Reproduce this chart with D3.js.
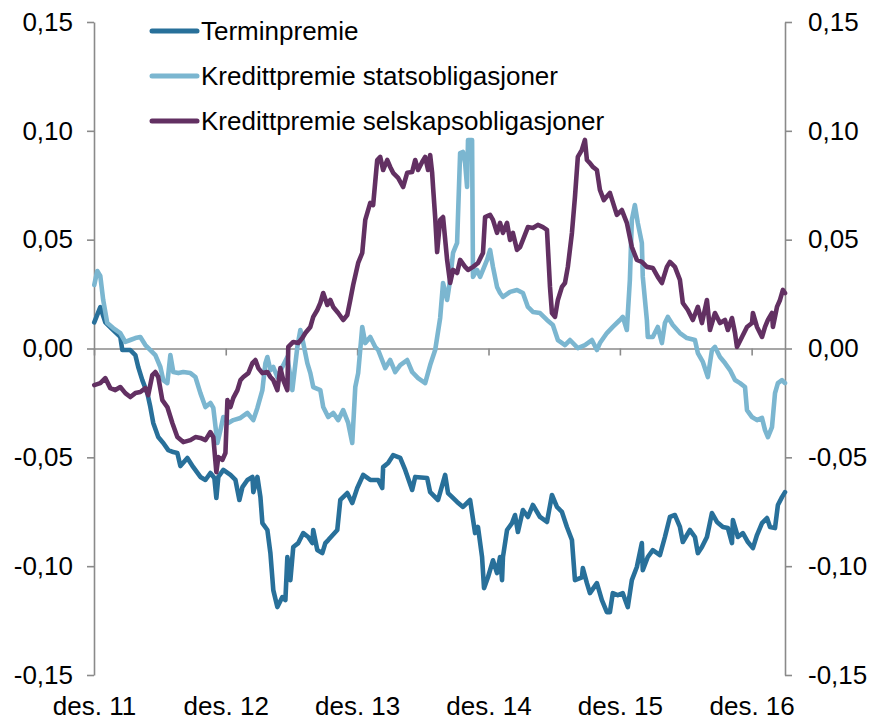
<!DOCTYPE html>
<html>
<head>
<meta charset="utf-8">
<script src="https://cdn.jsdelivr.net/npm/d3@7"></script>
<style>
  body { margin: 0; background: #fff; }
  text { font-family: "Liberation Sans", Arial, sans-serif; }
</style>
</head>
<body>
<div id="chart"></div>
<script>
// ---------------- data (decimal years / values) ----------------
var seriesNames = ["Terminpremie", "Kredittpremie statsobligasjoner", "Kredittpremie selskapsobligasjoner"];

var termYears = [2011.917,2011.963,2012.001,2012.061,2012.115,2012.130,2012.191,2012.229,2012.251,2012.282,
  2012.320,2012.343,2012.365,2012.403,2012.441,2012.479,2012.517,2012.548,2012.571,2012.624,
  2012.669,2012.723,2012.761,2012.799,2012.829,2012.844,2012.859,2012.897,2012.951,2012.989,
  2013.019,2013.042,2013.080,2013.118,2013.125,2013.156,2013.179,2013.194,2013.232,2013.255,
  2013.277,2013.308,2013.346,2013.369,2013.384,2013.407,2013.429,2013.467,2013.505,2013.543,
  2013.574,2013.581,2013.612,2013.650,2013.673,2013.695,2013.764,2013.787,2013.840,2013.878,
  2013.916,2013.961,2014.015,2014.075,2014.106,2014.113,2014.151,2014.189,2014.243,2014.281,
  2014.334,2014.357,2014.448,2014.471,2014.531,2014.585,2014.607,2014.676,2014.721,2014.775,
  2014.813,2014.835,2014.866,2014.881,2014.911,2014.949,2014.980,2015.003,2015.018,2015.025,
  2015.056,2015.094,2015.117,2015.139,2015.177,2015.215,2015.253,2015.307,2015.360,2015.398,
  2015.436,2015.474,2015.512,2015.550,2015.573,2015.626,2015.633,2015.664,2015.687,2015.740,
  2015.778,2015.816,2015.839,2015.861,2015.899,2015.937,2015.975,2016.006,2016.044,2016.082,
  2016.089,2016.127,2016.165,2016.219,2016.257,2016.295,2016.333,2016.371,2016.393,2016.447,
  2016.485,2016.507,2016.538,2016.576,2016.614,2016.652,2016.697,2016.735,2016.766,2016.773,
  2016.811,2016.849,2016.887,2016.925,2016.956,2016.994,2017.032,2017.055,2017.093,2017.115,
  2017.146,2017.169];
var termValues = [0.012,0.019,0.012,0.0085,0.0053,-0.0007,-0.0007,-0.003,-0.0085,-0.0145,
  -0.0205,-0.0269,-0.0342,-0.0407,-0.0434,-0.0467,-0.0476,-0.048,-0.054,-0.0503,
  -0.0545,-0.059,-0.0604,-0.0572,-0.0595,-0.0687,-0.059,-0.0558,-0.0581,-0.0604,
  -0.0696,-0.0637,-0.0604,-0.059,-0.066,-0.059,-0.0683,-0.0802,-0.0834,-0.094,
  -0.111,-0.1188,-0.1142,-0.1156,-0.0958,-0.1064,-0.0912,-0.0894,-0.0848,-0.0866,
  -0.0894,-0.0834,-0.0926,-0.094,-0.0894,-0.088,-0.0834,-0.0696,-0.0664,-0.071,
  -0.0641,-0.0581,-0.0604,-0.0604,-0.0641,-0.0545,-0.0526,-0.049,-0.0503,-0.0558,
  -0.065,-0.059,-0.0595,-0.066,-0.0696,-0.0581,-0.0664,-0.0705,-0.0728,-0.0696,
  -0.0848,-0.082,-0.0958,-0.1101,-0.1051,-0.0973,-0.1032,-0.0958,-0.1064,-0.0958,
  -0.0834,-0.0802,-0.0765,-0.0843,-0.0742,-0.0774,-0.0719,-0.0774,-0.0797,-0.0673,
  -0.0728,-0.0751,-0.082,-0.088,-0.1064,-0.1051,-0.1009,-0.1078,-0.1124,-0.1078,
  -0.1156,-0.1211,-0.1211,-0.1124,-0.1133,-0.1124,-0.1188,-0.1064,-0.1004,-0.0894,
  -0.1018,-0.0958,-0.0926,-0.0949,-0.0866,-0.0774,-0.0765,-0.082,-0.0889,-0.0834,
  -0.0866,-0.094,-0.0912,-0.0866,-0.0756,-0.0797,-0.082,-0.0825,-0.0894,-0.0788,
  -0.0866,-0.0848,-0.0889,-0.0917,-0.0857,-0.0802,-0.0779,-0.082,-0.0825,-0.0719,
  -0.0683,-0.066];

var statYears = [2011.917,2011.940,2011.963,2011.985,2012.016,2012.061,2012.115,2012.153,2012.191,2012.229,
  2012.267,2012.305,2012.343,2012.381,2012.419,2012.441,2012.472,2012.495,2012.517,2012.555,
  2012.593,2012.647,2012.685,2012.723,2012.761,2012.799,2012.821,2012.852,2012.875,2012.897,
  2012.935,2012.973,2013.027,2013.080,2013.125,2013.156,2013.194,2013.217,2013.232,2013.255,
  2013.277,2013.308,2013.346,2013.384,2013.422,2013.460,2013.483,2013.505,2013.536,2013.559,
  2013.581,2013.635,2013.657,2013.695,2013.733,2013.771,2013.809,2013.847,2013.878,2013.901,
  2013.923,2013.954,2013.977,2014.015,2014.053,2014.075,2014.129,2014.167,2014.205,2014.243,
  2014.296,2014.334,2014.379,2014.433,2014.471,2014.509,2014.547,2014.569,2014.600,2014.623,
  2014.645,2014.676,2014.699,2014.721,2014.737,2014.752,2014.759,2014.790,2014.797,2014.828,
  2014.851,2014.873,2014.904,2014.927,2014.949,2014.980,2015.003,2015.025,2015.079,2015.132,
  2015.177,2015.215,2015.253,2015.307,2015.360,2015.405,2015.443,2015.497,2015.535,2015.595,
  2015.649,2015.702,2015.740,2015.763,2015.816,2015.861,2015.915,2015.937,2015.968,2015.991,
  2016.006,2016.029,2016.051,2016.082,2016.089,2016.120,2016.127,2016.165,2016.203,2016.234,
  2016.257,2016.279,2016.317,2016.371,2016.424,2016.485,2016.507,2016.545,2016.583,2016.614,
  2016.637,2016.675,2016.713,2016.751,2016.789,2016.827,2016.865,2016.880,2016.918,2016.956,
  2016.994,2017.017,2017.039,2017.070,2017.093,2017.115,2017.146,2017.169];
var statValues = [0.0292,0.0356,0.0333,0.0223,0.0117,0.0094,0.0071,0.003,0.0039,0.0048,
  0.0053,0.0016,-0.0007,-0.003,-0.0085,-0.0145,-0.0159,-0.003,-0.0108,-0.0113,
  -0.0108,-0.0113,-0.0131,-0.0205,-0.0269,-0.025,-0.0273,-0.0434,-0.0375,-0.0315,
  -0.0342,-0.0329,-0.0319,-0.0296,-0.0329,-0.0273,-0.0191,-0.0067,-0.0039,-0.0099,
  -0.0085,-0.0131,-0.0085,-0.0039,-0.0191,0.0007,0.0085,0.0025,-0.0067,-0.0113,
  -0.0177,-0.0191,-0.0269,-0.0315,-0.0296,-0.0329,-0.0283,-0.0342,-0.0434,-0.0177,
  -0.0113,0.0099,0.0025,0.0053,0.0007,-0.0007,-0.009,-0.0053,-0.0108,-0.0076,
  -0.0053,-0.0108,-0.0136,-0.0159,-0.0076,-0.0007,0.014,0.0301,0.0223,0.0315,
  0.0439,0.0485,0.0898,0.0903,0.0852,0.0742,0.0958,0.0958,0.0329,0.0361,
  0.0329,0.0361,0.0407,0.0453,0.0375,0.0283,0.0255,0.0237,0.026,0.0269,
  0.0255,0.0191,0.0168,0.0163,0.0131,0.0108,0.0039,0.0016,0.0039,0.0002,
  0.0016,0.0039,-0.0007,0.0025,0.0071,0.0099,0.0131,0.0145,0.0085,0.0315,
  0.0591,0.0659,0.0577,0.0485,0.0329,0.0131,0.0053,0.0053,0.0099,0.0025,
  0.0117,0.0145,0.0108,0.0071,0.0048,0.0039,-0.0021,-0.0062,-0.0131,-0.0007,
  0.0007,-0.0039,-0.0067,-0.0099,-0.0145,-0.0159,-0.0177,-0.0283,-0.0315,-0.0329,
  -0.0319,-0.0375,-0.0407,-0.0361,-0.0205,-0.0159,-0.0145,-0.0159];

var selskYears = [2011.917,2011.963,2012.001,2012.039,2012.077,2012.115,2012.153,2012.191,2012.229,2012.267,
  2012.305,2012.327,2012.358,2012.381,2012.403,2012.434,2012.472,2012.510,2012.548,2012.593,
  2012.647,2012.685,2012.723,2012.761,2012.799,2012.821,2012.844,2012.859,2012.890,2012.913,
  2012.928,2012.951,2012.973,2013.004,2013.027,2013.049,2013.087,2013.118,2013.141,2013.163,
  2013.194,2013.232,2013.255,2013.277,2013.308,2013.331,2013.353,2013.384,2013.391,2013.429,
  2013.467,2013.498,2013.521,2013.559,2013.581,2013.612,2013.635,2013.657,2013.688,2013.711,
  2013.733,2013.771,2013.809,2013.840,2013.863,2013.885,2013.923,2013.954,2013.977,2014.015,
  2014.037,2014.068,2014.091,2014.113,2014.144,2014.167,2014.189,2014.227,2014.265,2014.296,
  2014.334,2014.357,2014.379,2014.410,2014.433,2014.455,2014.471,2014.486,2014.493,2014.509,
  2014.524,2014.547,2014.569,2014.600,2014.623,2014.645,2014.676,2014.699,2014.737,2014.759,
  2014.797,2014.835,2014.873,2014.889,2014.927,2014.949,2014.980,2015.003,2015.025,2015.056,
  2015.079,2015.101,2015.132,2015.155,2015.177,2015.215,2015.253,2015.291,2015.329,2015.360,
  2015.383,2015.398,2015.421,2015.443,2015.474,2015.497,2015.519,2015.550,2015.573,2015.595,
  2015.626,2015.649,2015.664,2015.687,2015.709,2015.740,2015.763,2015.793,2015.839,2015.892,
  2015.930,2015.968,2016.006,2016.044,2016.082,2016.120,2016.165,2016.203,2016.234,2016.272,
  2016.295,2016.333,2016.371,2016.393,2016.431,2016.469,2016.507,2016.538,2016.576,2016.599,
  2016.637,2016.675,2016.713,2016.735,2016.766,2016.789,2016.804,2016.842,2016.880,2016.918,
  2016.925,2016.956,2016.994,2017.017,2017.039,2017.070,2017.077,2017.108,2017.131,2017.153,
  2017.169];
var selskValues = [-0.0168,-0.0159,-0.0136,-0.0182,-0.0191,-0.0177,-0.0205,-0.0223,-0.0205,-0.02,
  -0.0182,-0.0214,-0.0122,-0.0108,-0.0131,-0.0237,-0.0269,-0.0342,-0.0407,-0.043,
  -0.0421,-0.0407,-0.0411,-0.0421,-0.0384,-0.0407,-0.0568,-0.0499,-0.0512,-0.048,
  -0.0237,-0.0269,-0.0227,-0.0191,-0.0145,-0.0131,-0.0113,-0.0067,-0.0053,-0.009,
  -0.0113,-0.0108,-0.0131,-0.0145,-0.0191,-0.009,-0.0145,-0.0191,0.0007,0.003,
  0.0025,0.0048,0.0071,0.0099,0.0145,0.0177,0.0209,0.0255,0.02,0.0223,
  0.0191,0.0163,0.0131,0.0154,0.0223,0.0292,0.0393,0.0439,0.0591,0.0669,
  0.0659,0.0866,0.088,0.082,0.0866,0.0834,0.0807,0.0784,0.0742,0.0807,
  0.0811,0.0866,0.082,0.0857,0.088,0.082,0.0889,0.0807,0.0742,0.0604,
  0.0443,0.0591,0.0604,0.0407,0.0301,0.0361,0.0347,0.0407,0.0375,0.0361,
  0.0375,0.0393,0.0439,0.0604,0.0614,0.0591,0.0531,0.0577,0.0531,0.0577,
  0.0499,0.0531,0.0453,0.0466,0.0499,0.0558,0.0554,0.0568,0.0558,0.0545,
  0.0283,0.0163,0.0145,0.0223,0.0283,0.0301,0.0375,0.0531,0.0696,0.088,
  0.0913,0.0958,0.0866,0.0852,0.0834,0.082,0.0729,0.0682,0.0715,0.0614,
  0.0636,0.0577,0.0466,0.0407,0.0398,0.0375,0.037,0.0329,0.0301,0.0375,
  0.0398,0.0375,0.0315,0.0209,0.0177,0.0131,0.0191,0.0117,0.0223,0.0085,
  0.0163,0.0117,0.0131,0.0085,0.014,0.0071,0.0007,0.0053,0.0099,0.0117,
  0.0163,0.0099,0.0053,0.0099,0.0131,0.0163,0.0099,0.0191,0.0223,0.0269,
  0.0255];

var tickYears = [2011, 2012, 2013, 2014, 2015, 2016];   // ticks at 1 December
var tickLabels = ["des. 11", "des. 12", "des. 13", "des. 14", "des. 15", "des. 16"];
var yTicks = [-0.15, -0.10, -0.05, 0, 0.05, 0.10, 0.15];
var colors = ["#28709a", "#7bb6d0", "#623062"];

// ---------------- set up ----------------
var svgWidth = 872, svgHeight = 720;
var plot = { left: 94, right: 785, top: 22, bottom: 675 };

var svg = d3.select("#chart").append("svg")
  .attr("width", svgWidth).attr("height", svgHeight);

function toDate(y) {
  var yr = Math.floor(y);
  var a = Date.UTC(yr, 0, 1), b = Date.UTC(yr + 1, 0, 1);
  return new Date(a + (y - yr) * (b - a));
}

var series = [
  { name: seriesNames[0], color: colors[0], pts: termYears.map((t, i) => ({ d: toDate(t), v: termValues[i] })) },
  { name: seriesNames[1], color: colors[1], pts: statYears.map((t, i) => ({ d: toDate(t), v: statValues[i] })) },
  { name: seriesNames[2], color: colors[2], pts: selskYears.map((t, i) => ({ d: toDate(t), v: selskValues[i] })) }
];

var xScale = d3.scaleUtc()
  .domain([new Date(Date.UTC(2011, 11, 1)), toDate(2017.169)])
  .range([plot.left, plot.right]);

var yScale = d3.scaleLinear()
  .domain([-0.15, 0.15])
  .range([plot.bottom, plot.top]);

var no = d3.formatLocale({ decimal: ",", thousands: " ", grouping: [3], currency: ["", " kr"], minus: "-" });
var fmt = no.format(".2f");

var tickDates = tickYears.map(y => new Date(Date.UTC(y, 11, 1)));

// ---------------- axes ----------------
var axisColor = "#8a8a8a";

var leftAxis = svg.append("g")
  .attr("transform", `translate(${plot.left},0)`)
  .call(d3.axisLeft(yScale).tickValues(yTicks).tickFormat(fmt).tickSize(7).tickSizeOuter(0).tickPadding(14));

var rightAxis = svg.append("g")
  .attr("transform", `translate(${plot.right},0)`)
  .call(d3.axisRight(yScale).tickValues(yTicks).tickFormat(fmt).tickSize(7).tickSizeOuter(0).tickPadding(16));

// zero line with year ticks
var zeroAxis = svg.append("g")
  .attr("transform", `translate(0,${yScale(0)})`)
  .call(d3.axisBottom(xScale).tickValues(tickDates).tickFormat("").tickSize(7).tickSizeOuter(0));

// date labels at the bottom
var labelAxis = svg.append("g")
  .attr("transform", `translate(0,690)`)
  .call(d3.axisBottom(xScale).tickValues(tickDates).tickFormat((d, i) => tickLabels[i]).tickSize(0).tickPadding(7));
labelAxis.select(".domain").remove();

[leftAxis, rightAxis, zeroAxis].forEach(function (g) {
  g.selectAll("path, line").attr("stroke", axisColor).attr("stroke-width", 1.6);
});
svg.selectAll(".tick text")
  .attr("font-family", "Liberation Sans, Arial, sans-serif")
  .attr("font-size", 26)
  .attr("fill", "#000");

// ---------------- lines ----------------
var line = d3.line()
  .x(d => xScale(d.d))
  .y(d => yScale(d.v));

svg.append("g").selectAll("path")
  .data(series)
  .enter()
  .append("path")
  .attr("d", d => line(d.pts))
  .attr("fill", "none")
  .attr("stroke", d => d.color)
  .attr("stroke-width", 4.6)
  .attr("stroke-linejoin", "round")
  .attr("stroke-linecap", "round");

// ---------------- legend ----------------
var legend = svg.append("g").selectAll("g")
  .data(series)
  .enter()
  .append("g")
  .attr("transform", (d, i) => `translate(152,${31 + i * 45})`);

legend.append("line")
  .attr("x1", 0).attr("x2", 45)
  .attr("stroke", d => d.color)
  .attr("stroke-width", 5)
  .attr("stroke-linecap", "round");

legend.append("text")
  .attr("x", 49)
  .attr("dy", "0.35em")
  .attr("font-size", 26)
  .attr("fill", "#000")
  .text(d => d.name);
</script>
</body>
</html>
